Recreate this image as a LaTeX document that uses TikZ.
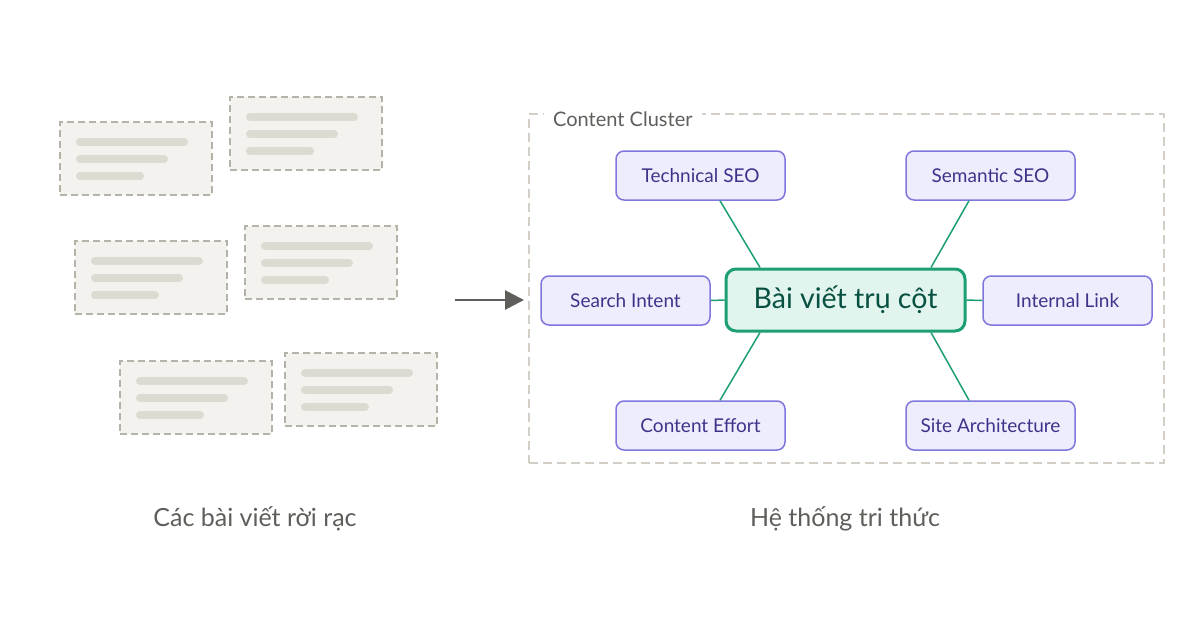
\documentclass[tikz,border=0pt]{standalone}
\usepackage{fontspec}
\setmainfont{Lato}
\usetikzlibrary{calc,arrows.meta}
\definecolor{cardfill}{HTML}{F3F2EE}
\definecolor{cardborder}{HTML}{B5B2A8}
\definecolor{cardline}{HTML}{DDDAD2}
\definecolor{clusterborder}{HTML}{D3CFC7}
\definecolor{graytext}{HTML}{5F5E5A}
\definecolor{pfill}{HTML}{EEEDFE}
\definecolor{pborder}{HTML}{7F77DD}
\definecolor{ptext}{HTML}{3C3489}
\definecolor{gfill}{HTML}{E1F5EE}
\definecolor{gborder}{HTML}{1D9E75}
\definecolor{gtext}{HTML}{085041}
\definecolor{arrowc}{HTML}{5F5E5A}
\tikzset{
  card/.style={draw=cardborder, fill=cardfill, dash pattern=on 7pt off 4pt, line width=2pt,
    minimum width=152pt, minimum height=73pt, anchor=north west, inner sep=0pt},
  cardbar/.style={draw=cardline, line width=8pt, line cap=round},
  cluster/.style={draw=clusterborder, dash pattern=on 9pt off 5pt, line width=1.5pt,
    minimum width=635pt, minimum height=349pt, anchor=north west, inner sep=0pt},
  pnode/.style={draw=pborder, fill=pfill, line width=1.5pt, rounded corners=8pt,
    minimum width=169pt, minimum height=49pt, inner sep=0pt, text=ptext,
    font=\fontsize{19}{21}\selectfont},
  gnode/.style={draw=gborder, fill=gfill, line width=3pt, rounded corners=10pt,
    minimum width=239pt, minimum height=62pt, inner sep=0pt, text=gtext,
    font=\fontsize{28.5}{32}\selectfont},
  conn/.style={draw=gborder, line width=1.5pt},
  caption/.style={text=graytext, font=\fontsize{25}{29}\selectfont},
}
\newcommand\doccard[3]{%
  \node[card] (#1) at (#2,#3) {};
  \draw[cardbar] ($(#1.north west)+(21,21)$) -- ++(104,0);
  \draw[cardbar] ($(#1.north west)+(21,38)$) -- ++(84,0);
  \draw[cardbar] ($(#1.north west)+(21,55)$) -- ++(60,0);
}
\begin{document}
\begin{tikzpicture}[x=1pt,y=-1pt]
\useasboundingbox[fill=white] (0,0) rectangle (1200,630);
% scattered cards
\doccard{c1}{59}{121}
\doccard{c2}{229}{96}
\doccard{c3}{74}{240}
\doccard{c4}{244}{225}
\doccard{c5}{119}{360}
\doccard{c6}{284}{352}
% arrow
\coordinate (a1) at (455,300);
\coordinate (a2) at (524,300);
\draw[arrowc, line width=2.8pt, -{Triangle[length=19pt,width=19pt]}] (a1) -- (a2);
% cluster
\node[cluster] (cluster) at (528,113) {};
\node[fill=white, text=graytext, font=\fontsize{20}{22}\selectfont, anchor=west, inner xsep=9pt, inner ysep=2pt] (clab) at (544,119) {Content Cluster};
% nodes
\node[gnode] (core) at (845.5,300) {Bài viết trụ cột};
\node[pnode] (tech) at (700.5,175.5) {Technical SEO};
\node[pnode] (sem) at (990.5,175.5) {Semantic SEO};
\node[pnode] (search) at (625.5,300.5) {Search Intent};
\node[pnode] (link) at (1067.5,300.5) {Internal Link};
\node[pnode] (effort) at (700.5,425.5) {Content Effort};
\node[pnode] (arch) at (990.5,425.5) {Site Architecture};
% connectors
\draw[conn] ($(tech.south)+(19.5,0)$) -- ($(core.north)+(-85.5,0)$);
\draw[conn] ($(sem.south)+(-21.5,0)$) -- ($(core.north)+(85.5,0)$);
\draw[conn] ($(effort.north)+(19.5,0)$) -- ($(core.south)+(-85.5,0)$);
\draw[conn] ($(arch.north)+(-21.5,0)$) -- ($(core.south)+(85.5,0)$);
\draw[conn] (search.east) -- (core.west);
\draw[conn] (link.west) -- (core.east);
% captions
\node[caption] (lab1) at (255,519) {Các bài viết rời rạc};
\node[caption] (lab2) at (845,519) {Hệ thống tri thức};
\end{tikzpicture}
\end{document}
